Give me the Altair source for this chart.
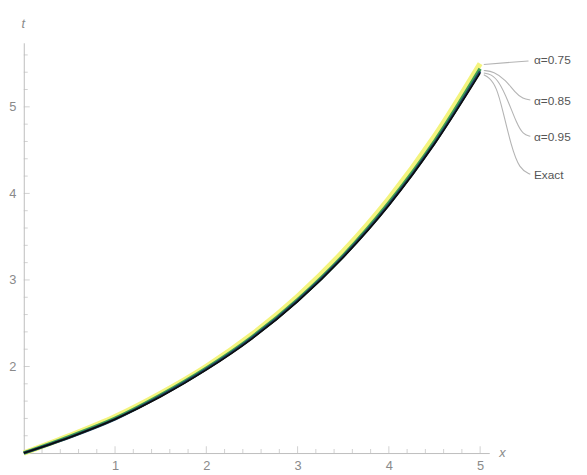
import altair as alt
import pandas as pd

# ---- data ----
x_vals = [0, 0.5, 1, 1.5, 2, 2.5, 3, 3.5, 4, 4.5, 5]
t_a075 = [1.00, 1.20, 1.42, 1.69, 2.00, 2.37, 2.81, 3.33, 3.94, 4.66, 5.50]
t_a085 = [1.00, 1.19, 1.40, 1.67, 1.98, 2.34, 2.77, 3.28, 3.89, 4.60, 5.44]
t_a095 = [1.00, 1.18, 1.39, 1.66, 1.97, 2.33, 2.76, 3.27, 3.87, 4.58, 5.41]
t_exact = [1.00, 1.18, 1.39, 1.65, 1.96, 2.32, 2.75, 3.26, 3.86, 4.57, 5.39]

series_names = ["α=0.75", "α=0.85", "α=0.95", "Exact"]
series_vals = [t_a075, t_a085, t_a095, t_exact]

# callout leader lines (x, t) and label anchors
callout_x = [
    [5.04, 5.53],
    [5.04, 5.15, 5.28, 5.38, 5.47, 5.55],
    [5.04, 5.12, 5.21, 5.31, 5.40, 5.47, 5.55],
    [5.04, 5.10, 5.18, 5.25, 5.34, 5.43, 5.55],
]
callout_t = [
    [5.49, 5.53],
    [5.42, 5.41, 5.31, 5.17, 5.09, 5.08],
    [5.39, 5.38, 5.29, 5.06, 4.81, 4.68, 4.66],
    [5.37, 5.34, 5.23, 4.95, 4.55, 4.28, 4.22],
]
label_x = [5.59, 5.59, 5.59, 5.59]
label_t = [5.54, 5.07, 4.65, 4.21]

x_major = [1, 2, 3, 4, 5]
y_major = [2, 3, 4, 5]
x_minor = [0.2, 0.4, 0.6, 0.8, 1.2, 1.4, 1.6, 1.8, 2.2, 2.4, 2.6, 2.8,
           3.2, 3.4, 3.6, 3.8, 4.2, 4.4, 4.6, 4.8]
y_minor = [1.2, 1.4, 1.6, 1.8, 2.2, 2.4, 2.6, 2.8, 3.2, 3.4, 3.6, 3.8,
           4.2, 4.4, 4.6, 4.8, 5.2, 5.4, 5.6]
x_origin = 0
y_origin = 1

# ---- tables ----
curve_df = pd.DataFrame(
    [{"x": x, "t": t, "s": n} for n, vals in zip(series_names, series_vals)
     for x, t in zip(x_vals, vals)]
)
callout_df = pd.DataFrame(
    [{"x": x, "t": t, "s": n, "i": i}
     for n, xs, ts in zip(series_names, callout_x, callout_t)
     for i, (x, t) in enumerate(zip(xs, ts))]
)
label_df = pd.DataFrame({"x": label_x, "t": label_t, "s": series_names})

FONT = "Liberation Sans, Arial, sans-serif"
AXIS_COLOR = "#bdbdbd"
LABEL_COLOR = "#8a8a8a"

xscale = alt.Scale(domain=[0, 5.1], nice=False, zero=False)
yscale = alt.Scale(domain=[1, 5.74], nice=False, zero=False)

xaxis = alt.Axis(values=x_major, ticks=False, grid=False, domainColor=AXIS_COLOR,
                 labelColor=LABEL_COLOR, labelFont=FONT, labelFontSize=13,
                 labelPadding=7, title="x", titleFont=FONT, titleFontStyle="italic",
                 titleFontWeight="normal", titleColor=LABEL_COLOR, titleFontSize=13,
                 titleAngle=0, titleX=485, titleY=0, titleAlign="center",
                 titleBaseline="middle")
yaxis = alt.Axis(values=y_major, ticks=False, grid=False, domainColor=AXIS_COLOR,
                 labelColor=LABEL_COLOR, labelFont=FONT, labelFontSize=13,
                 labelPadding=8, title="t", titleFont=FONT, titleFontStyle="italic",
                 titleFontWeight="normal", titleColor=LABEL_COLOR, titleFontSize=13,
                 titleAngle=0, titleX=-1, titleY=-20, titleAlign="center",
                 titleBaseline="middle")


def X():
    return alt.X("x:Q", scale=xscale, axis=xaxis)


def Y():
    return alt.Y("t:Q", scale=yscale, axis=yaxis)


base_curve = alt.Chart(curve_df)
colors = ["#f4f47e", "#3f9f55", "#1d3f62", "#0c0c0c"]
widths = [5.5, 3.6, 2.6, 1.6]

layers = []
for name, col, w in zip(series_names, colors, widths):
    layers.append(
        base_curve.transform_filter(alt.datum.s == name)
        .mark_line(color=col, strokeWidth=w, interpolate="monotone")
        .encode(x=X(), y=Y())
    )

callouts = alt.Chart(callout_df).mark_line(
    color="#b4b4b4", strokeWidth=1.1, interpolate="basis"
).encode(x=X(), y=Y(), detail="s:N", order="i:Q")

labels = alt.Chart(label_df).mark_text(
    align="left", baseline="middle", font=FONT, fontSize=12, color="#555555"
).encode(x=X(), y=Y(), text="s:N")

# inward-pointing axis ticks
xmaj_df = pd.DataFrame({"x": x_major, "t": [y_origin] * len(x_major)})
xmin_df = pd.DataFrame({"x": x_minor, "t": [y_origin] * len(x_minor)})
ymaj_df = pd.DataFrame({"t": y_major, "x": [x_origin] * len(y_major)})
ymin_df = pd.DataFrame({"t": y_minor, "x": [x_origin] * len(y_minor)})


def ticks(df, orient, size, off):
    kw = {"yOffset": -off} if orient == "vertical" else {"xOffset": off}
    return alt.Chart(df).mark_tick(
        orient=orient, size=size, thickness=1, color=AXIS_COLOR, **kw
    ).encode(x=X(), y=Y())


chart = alt.layer(
    *layers,
    ticks(xmin_df, "vertical", 4, 2), ticks(xmaj_df, "vertical", 7, 3.5),
    ticks(ymin_df, "horizontal", 4, 2), ticks(ymaj_df, "horizontal", 6, 3),
    callouts, labels
).properties(
    width=472,
    height=416,
    autosize=alt.AutoSizeParams(type="none"),
    padding={"left": 16, "top": 32, "right": 91, "bottom": 20},
).configure_view(stroke=None)

chart.save("out.html", embed_options={"renderer": "svg", "actions": False})
